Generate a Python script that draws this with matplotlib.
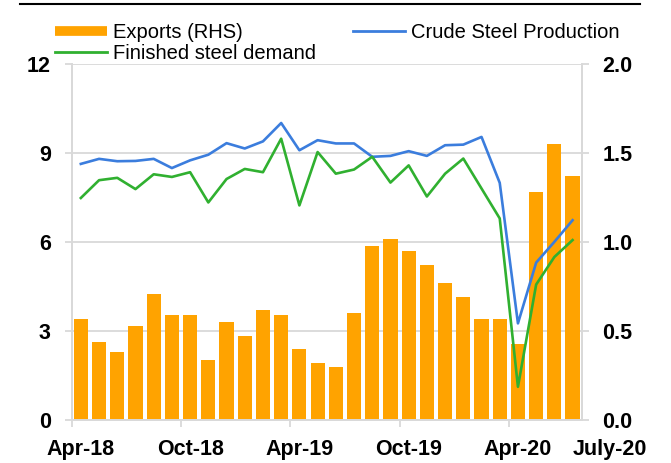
import numpy as np
import matplotlib
matplotlib.use("Agg")
import matplotlib.pyplot as plt
from matplotlib.lines import Line2D

plt.rcParams['font.family'] = ['Liberation Sans', 'DejaVu Sans']

# monthly values, Apr-18 .. Jul-20
exports = [0.57, 0.44, 0.38, 0.53, 0.71, 0.59, 0.59, 0.34, 0.55, 0.47,
           0.62, 0.59, 0.40, 0.32, 0.30, 0.60, 0.98, 1.02, 0.95, 0.87,
           0.77, 0.69, 0.57, 0.57, 0.43, 1.28, 1.55, 1.37]
crude = [8.64, 8.81, 8.73, 8.74, 8.81, 8.50, 8.76, 8.95, 9.34, 9.16,
         9.40, 10.02, 9.10, 9.44, 9.33, 9.33, 8.88, 8.91, 9.07, 8.91,
         9.27, 9.29, 9.55, 8.00, 3.26, 5.31, 6.01, 6.74]
finished = [7.49, 8.09, 8.17, 7.79, 8.29, 8.20, 8.36, 7.34, 8.13, 8.47,
            8.36, 9.49, 7.24, 9.04, 8.31, 8.45, 8.88, 8.01, 8.59, 7.54,
            8.31, 8.82, 7.81, 6.80, 1.12, 4.57, 5.50, 6.07]
tick_pos = [0, 6, 12, 18, 24, 27]
tick_labels = ['Apr-18', 'Oct-18', 'Apr-19', 'Oct-19', 'Apr-20', 'July-20']

orange = '#FFA300'
blue = '#3B7DDD'
green = '#30B030'
grey = '#D9D9D9'

x = np.arange(len(exports))

fig = plt.figure(figsize=(6.71, 4.63), dpi=100)
ax = fig.add_axes([0.1069, 0.0929, 0.76, 0.7682])
ax2 = ax.twinx()

# bars on the right axis, drawn underneath the lines
ax2.bar(x, exports, width=0.78, color=orange, zorder=2)
ax2.set_ylim(0, 2.0)
ax2.set_yticks([0, 0.5, 1.0, 1.5, 2.0])
ax2.set_yticklabels(['0.0', '0.5', '1.0', '1.5', '2.0'])
ax2.yaxis.grid(True, color=grey, lw=1.3, zorder=0)
ax2.set_axisbelow(True)

ax.plot(x, crude, color=blue, lw=1.9)
ax.plot(x, finished, color=green, lw=1.9)
ax.set_ylim(0, 12)
ax.set_yticks([0, 3, 6, 9, 12])
ax.set_xlim(-0.5, 27.5)
ax.set_zorder(ax2.get_zorder() + 1)
ax.patch.set_visible(False)

for a in (ax, ax2):
    a.spines['top'].set_visible(False)
    for s in ('left', 'right', 'bottom'):
        a.spines[s].set_color(grey)
        a.spines[s].set_linewidth(1.3)
    a.tick_params(axis='y', length=5, width=1.3, color=grey, pad=10,
                  labelsize=15.5)
    for lab in a.get_yticklabels():
        lab.set_fontweight('bold')

ax.set_xticks(tick_pos)
ax.set_xticklabels(tick_labels, fontsize=15.5, fontweight='bold')
ax.set_xticks([-0.5, 5.5, 11.5, 17.5, 23.5], minor=True)
ax.tick_params(axis='x', which='major', length=0, pad=14)
ax.tick_params(axis='x', which='minor', length=5, width=1.3, color=grey)
ax.get_xticklabels()[-1].set_horizontalalignment('left')
ax.get_xticklabels()[-1].set_x(27.1)

handles = [Line2D([], [], color=orange, lw=7, solid_capstyle='butt'),
           Line2D([], [], color=green, lw=2),
           Line2D([], [], color=blue, lw=2)]
labels = ['Exports (RHS)', 'Finished steel demand', 'Crude Steel Production']
fig.legend(handles, labels, ncol=2, loc='upper left',
           bbox_to_anchor=(0.052, 0.993), frameon=False, fontsize=14.5,
           handlelength=2.6, handletextpad=0.3, columnspacing=1.8,
           labelspacing=0.1, borderpad=0.5)

# rule across the top
fig.add_artist(Line2D([20 / 671, 640 / 671], [1 - 3.5 / 463, 1 - 3.5 / 463],
                      color='black', lw=1.5, transform=fig.transFigure))

fig.savefig('out.png', dpi=100)
